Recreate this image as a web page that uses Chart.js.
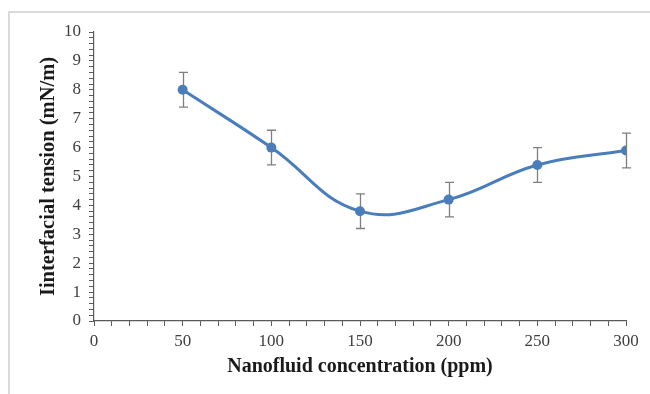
<!DOCTYPE html>
<html>
<head>
<meta charset="utf-8">
<script src="https://cdn.jsdelivr.net/npm/chart.js@4/dist/chart.umd.min.js"></script>
<style>
  html, body { margin: 0; padding: 0; background: #fff; }
  #wrap { position: relative; width: 650px; height: 394px; }
  #frame {
    position: absolute; left: 8px; top: 11px; right: -4px; bottom: -4px;
    border-left: 2px solid #dadada; border-top: 2px solid #dadada;
  }
  canvas { position: absolute; left: 0; top: 0; }
</style>
</head>
<body>
<div id="wrap">
  <div id="frame"></div>
  <canvas id="myChart" width="650" height="394"></canvas>
</div>
<script>
// data
const concentration = [50, 100, 150, 200, 250, 300]; // ppm
const tension = [8.0, 6.0, 3.8, 4.2, 5.4, 5.9]; // mN/m
const errorBar = [0.6, 0.6, 0.6, 0.6, 0.6, 0.6];

const xTitle = "Nanofluid concentration (ppm)";
const yTitle = "Iinterfacial tension (mN/m)";

const serif = "'Liberation Serif', 'Times New Roman', serif";
const blue = "#4a7ebb";

// draws the vertical error bars using the chart scales
const errorBars = {
  id: "errorBars",
  beforeDatasetsDraw(chart) {
    const { ctx, scales } = chart;
    const x = scales.x, y = scales.y;
    ctx.save();
    ctx.strokeStyle = "#7f7f7f";
    ctx.lineWidth = 1.3;
    concentration.forEach((c, i) => {
      const px = Math.round(x.getPixelForValue(c)) + 0.5;
      const top = y.getPixelForValue(tension[i] + errorBar[i]);
      const bot = y.getPixelForValue(tension[i] - errorBar[i]);
      ctx.beginPath();
      ctx.moveTo(px, top); ctx.lineTo(px, bot);
      ctx.moveTo(px - 4.5, top); ctx.lineTo(px + 4.5, top);
      ctx.moveTo(px - 4.5, bot); ctx.lineTo(px + 4.5, bot);
      ctx.stroke();
    });
    ctx.restore();
  }
};

const isMultiple = (v, step) => Math.abs(v / step - Math.round(v / step)) < 1e-6;

new Chart(document.getElementById("myChart"), {
  type: "line",
  data: {
    datasets: [{
      data: concentration.map((c, i) => ({ x: c, y: tension[i] })),
      borderColor: blue,
      backgroundColor: blue,
      borderWidth: 3,
      pointRadius: 5,
      pointHoverRadius: 5,
      pointBorderWidth: 0,
      tension: 0.42,
      fill: false
    }]
  },
  options: {
    responsive: false,
    animation: false,
    layout: { padding: { left: 0, right: 24, top: 32, bottom: 0 } },
    plugins: { legend: { display: false }, tooltip: { enabled: false } },
    scales: {
      x: {
        type: "linear",
        min: 0,
        max: 300,
        afterFit(scale) { scale.height = 73; },
        grid: { drawOnChartArea: false, drawTicks: true, tickLength: 5, color: "#595959" },
        border: { color: "#595959", width: 1.2 },
        ticks: {
          stepSize: 10,
          autoSkip: false,
          maxRotation: 0,
          padding: 5,
          color: "#404040",
          font: { family: serif, size: 17 },
          callback: (v) => (isMultiple(v, 50) ? v : "")
        },
        title: {
          display: true,
          text: xTitle,
          color: "#1a1a1a",
          font: { family: serif, size: 20, weight: "bold" },
          padding: { top: 0, bottom: 15 }
        }
      },
      y: {
        min: 0,
        max: 10,
        afterFit(scale) { scale.width = 94; },
        grid: { drawOnChartArea: false, drawTicks: true, tickLength: 5, color: "#595959" },
        border: { color: "#595959", width: 1.2 },
        ticks: {
          stepSize: 0.2,
          autoSkip: false,
          padding: 8,
          color: "#404040",
          font: { family: serif, size: 17 },
          callback: (v) => (isMultiple(v, 1) ? Math.round(v) : "")
        },
        title: {
          display: true,
          text: yTitle,
          color: "#1a1a1a",
          font: { family: serif, size: 20.5, weight: "bold" },
          padding: { top: 36, bottom: 0 }
        }
      }
    }
  },
  plugins: [errorBars]
});
</script>
</body>
</html>
